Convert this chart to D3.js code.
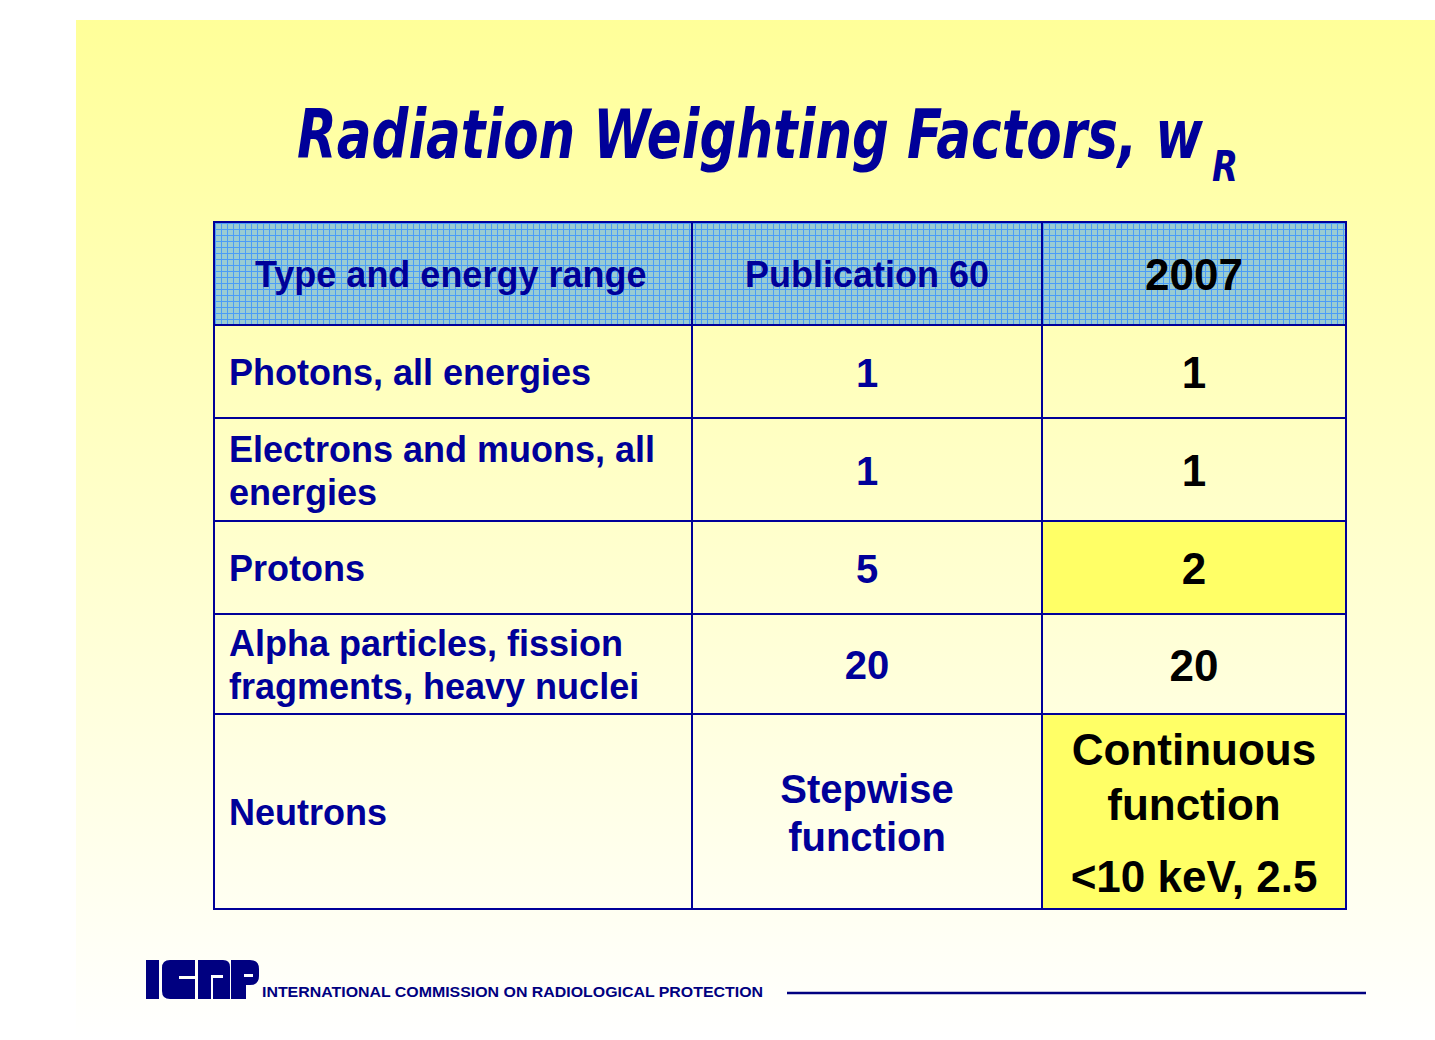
<!DOCTYPE html>
<html>
<head>
<meta charset="utf-8">
<script src="https://cdn.jsdelivr.net/npm/d3@7/dist/d3.min.js"></script>
<style>
  html, body { margin: 0; padding: 0; background: #ffffff; }
  svg { display: block; }
</style>
</head>
<body>
<svg id="chart" width="1435" height="1040"></svg>
<script>
// ---------- DATA ----------
const titleMain = "Radiation Weighting Factors, w";
const titleSub = "R";
const headers = ["Type and energy range", "Publication 60", "2007"];
const radiationTypes = [
  ["Photons, all energies"],
  ["Electrons and muons, all", "energies"],
  ["Protons"],
  ["Alpha particles, fission", "fragments, heavy nuclei"],
  ["Neutrons"]
];
const pub60Values = [["1"], ["1"], ["5"], ["20"], ["Stepwise", "function"]];
const icrp2007Values = [[["1"]], [["1"]], [["2"]], [["20"]], [["Continuous", "function"], ["<10 keV, 2.5"]]];
const changed2007 = [false, false, true, false, true];
const footerText = "INTERNATIONAL COMMISSION ON RADIOLOGICAL PROTECTION";

// ---------- LAYOUT ----------
const W = 1435, H = 1040;
const navy = "#000099";
const svg = d3.select("#chart");
const defs = svg.append("defs");

// background gradient
const grad = defs.append("linearGradient").attr("id", "bg").attr("x1", 0).attr("y1", 0).attr("x2", 0).attr("y2", 1);
grad.append("stop").attr("offset", "0%").attr("stop-color", "#FFFF99");
grad.append("stop").attr("offset", "100%").attr("stop-color", "#FFFFFF");

// header grid pattern
const pat = defs.append("pattern").attr("id", "grid").attr("patternUnits", "userSpaceOnUse")
  .attr("width", 6).attr("height", 6).attr("x", 215).attr("y", 223);
pat.append("rect").attr("width", 6).attr("height", 6).attr("fill", "#99CCD2");
pat.append("rect").attr("x", 0).attr("y", 0).attr("width", 1).attr("height", 6).attr("fill", "#4A9CF8");
pat.append("rect").attr("x", 0).attr("y", 0).attr("width", 6).attr("height", 1).attr("fill", "#4A9CF8");

svg.append("rect").attr("x", 76).attr("y", 20).attr("width", W - 76).attr("height", H - 20).attr("fill", "url(#bg)");

// title (tall condensed italic)
svg.append("text")
  .attr("transform", "translate(297,158) scale(1,1.42)")
  .attr("x", 0).attr("y", 0)
  .attr("font-family", "'DejaVu Sans', sans-serif").attr("font-weight", "bold").attr("font-style", "italic")
  .attr("font-size", 48).attr("fill", navy)
  .attr("textLength", 906).attr("lengthAdjust", "spacingAndGlyphs")
  .text(titleMain);
svg.append("text")
  .attr("transform", "translate(1212,181) scale(1,1.3)")
  .attr("x", 0).attr("y", 0)
  .attr("font-family", "'DejaVu Sans', sans-serif").attr("font-weight", "bold").attr("font-style", "italic")
  .attr("font-size", 33).attr("fill", navy)
  .attr("textLength", 26).attr("lengthAdjust", "spacingAndGlyphs")
  .text(titleSub);

// table geometry via scales
const colKeys = ["type", "pub60", "y2007"];
const colX = d3.scaleOrdinal().domain(colKeys).range([214, 692, 1042]);
const colW = d3.scaleOrdinal().domain(colKeys).range([478, 350, 304]);
const rowHeights = [103, 93, 103, 93, 100, 195];
const rowEdges = [222];
rowHeights.forEach(h => rowEdges.push(rowEdges[rowEdges.length - 1] + h));
const rowY = d3.scaleOrdinal().domain(d3.range(rowHeights.length)).range(rowEdges.slice(0, -1));
const rowH = d3.scaleOrdinal().domain(d3.range(rowHeights.length)).range(rowHeights);

const font = "'Liberation Sans', Arial, sans-serif";

// cells
const cells = [];
headers.forEach((h, i) => cells.push({ row: 0, col: colKeys[i], paras: [[h]], size: i === 2 ? 44 : 36,
  color: i === 2 ? "#000000" : navy, anchor: i === 0 ? "start" : "middle", fill: "url(#grid)", lh: 1.2 }));
radiationTypes.forEach((t, r) => {
  cells.push({ row: r + 1, col: "type", paras: [t], size: 36, color: navy, anchor: "start", fill: "none", lh: 1.2 });
  cells.push({ row: r + 1, col: "pub60", paras: [pub60Values[r]], size: 40, color: navy, anchor: "middle", fill: "none", lh: 1.2 });
  cells.push({ row: r + 1, col: "y2007", paras: icrp2007Values[r], size: 44, color: "#000000", anchor: "middle",
    fill: changed2007[r] ? "#FFFF66" : "none", lh: 1.25, paraGap: 17 });
});

const g = svg.append("g");
g.selectAll("rect.cell").data(cells.filter(c => c.fill !== "none")).join("rect")
  .attr("class", "cell")
  .attr("x", d => colX(d.col)).attr("y", d => rowY(d.row))
  .attr("width", d => colW(d.col)).attr("height", d => rowH(d.row))
  .attr("fill", d => d.fill);

// text
cells.forEach(c => {
  const lines = [];
  let off = 0;
  c.paras.forEach((p, pi) => {
    p.forEach((ln, li) => {
      if (lines.length > 0) off += c.size * c.lh + (li === 0 && pi > 0 ? (c.paraGap || 0) : 0);
      lines.push({ text: ln, off });
    });
  });
  const total = off;
  const capHalf = c.size * 0.716 / 2;
  const cy = rowY(c.row) + rowH(c.row) / 2 + 1;
  let x;
  if (c.anchor === "start") x = colX(c.col) + (c.row === 0 ? 41 : 15);
  else x = colX(c.col) + colW(c.col) / 2;
  g.selectAll(null).data(lines).join("text")
    .attr("x", x)
    .attr("y", d => cy - total / 2 + d.off + capHalf)
    .attr("text-anchor", c.anchor)
    .attr("font-family", font).attr("font-weight", "bold")
    .attr("font-size", c.size)
    .attr("fill", c.color)
    .text(d => d.text);
});

// grid lines
const x0 = colX("type"), x1 = colX("y2007") + colW("y2007");
const y0 = rowEdges[0], y1 = rowEdges[rowEdges.length - 1];
g.selectAll("line.h").data(rowEdges).join("line").attr("class", "h")
  .attr("x1", x0).attr("x2", x1).attr("y1", d => d).attr("y2", d => d)
  .attr("stroke", navy).attr("stroke-width", 2);
g.selectAll("line.v").data([x0, colX("pub60"), colX("y2007"), x1]).join("line").attr("class", "v")
  .attr("x1", d => d).attr("x2", d => d).attr("y1", y0 - 1).attr("y2", y1 + 1)
  .attr("stroke", navy).attr("stroke-width", 2);

// footer: ICRP logo
const logo = svg.append("g").attr("fill", "#000080");
logo.append("rect").attr("x", 146).attr("y", 960).attr("width", 13).attr("height", 39);
logo.append("path").attr("d", "M170,960 H195 V976 H179 V979 H195 V999 H170 Q162,999 162,991 V968 Q162,960 170,960 Z");
logo.append("path").attr("d", "M198,960 H223 Q230,960 230,967 V999 H198 Z");
logo.append("rect").attr("x", 211).attr("y", 975).attr("width", 12).attr("height", 3).attr("fill", "#FFFFFF");
logo.append("rect").attr("x", 211).attr("y", 975).attr("width", 2).attr("height", 24).attr("fill", "#FFFFFF");
logo.append("path").attr("d", "M231,960 H250 Q259,960 259,969 V976 Q259,985 250,985 H246 V999 H231 Z");
logo.append("rect").attr("x", 244).attr("y", 974).attr("width", 9).attr("height", 3).attr("fill", "#FFFFFF");

svg.append("text").attr("x", 262).attr("y", 997)
  .attr("font-family", font).attr("font-weight", "bold").attr("font-size", 15.5).attr("fill", "#000080")
  .attr("textLength", 501).attr("lengthAdjust", "spacingAndGlyphs")
  .text(footerText);
svg.append("line").attr("x1", 787).attr("x2", 1366).attr("y1", 993).attr("y2", 993)
  .attr("stroke", "#000080").attr("stroke-width", 2.5);
</script>
</body>
</html>
